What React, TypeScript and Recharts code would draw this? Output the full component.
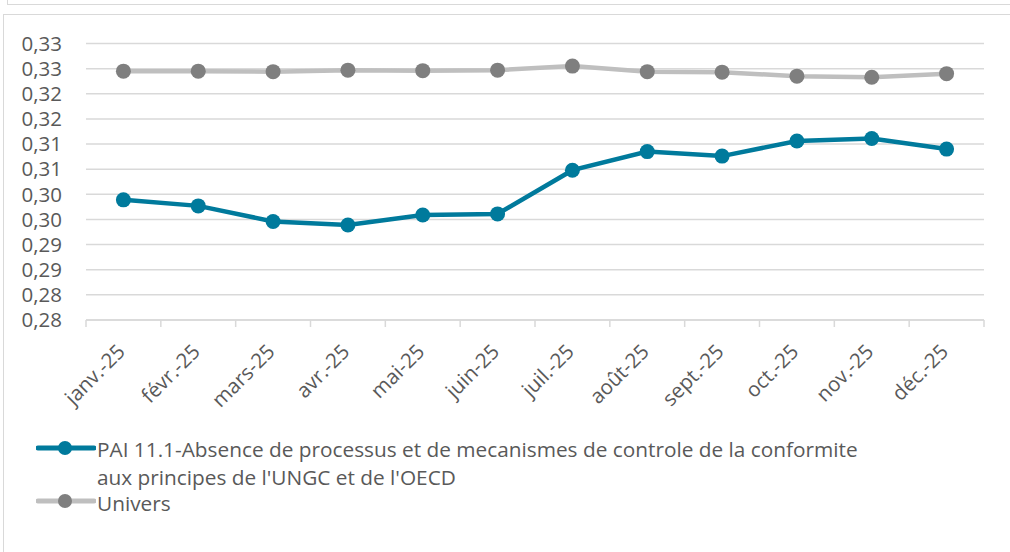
import React from "react";
import {
  LineChart,
  Line,
  XAxis,
  YAxis,
  CartesianGrid,
} from "recharts";

const months = [
  "janv.-25",
  "févr.-25",
  "mars-25",
  "avr.-25",
  "mai-25",
  "juin-25",
  "juil.-25",
  "août-25",
  "sept.-25",
  "oct.-25",
  "nov.-25",
  "déc.-25",
];

const paiValues = [
  0.2989, 0.2977, 0.2946, 0.2939, 0.2959, 0.2961, 0.3048, 0.3085, 0.3076,
  0.3106, 0.3111, 0.309,
];

const universValues = [
  0.3245, 0.3245, 0.3244, 0.3247, 0.3246, 0.3247, 0.3255, 0.3244, 0.3243,
  0.3235, 0.3233, 0.324,
];

const yTicks = [
  0.275, 0.28, 0.285, 0.29, 0.295, 0.3, 0.305, 0.31, 0.315, 0.32, 0.325, 0.33,
];
const yTickLabels = [
  "0,28", "0,28", "0,29", "0,29", "0,30", "0,30",
  "0,31", "0,31", "0,32", "0,32", "0,33", "0,33",
];

const paiName =
  "PAI 11.1-Absence de processus et de mecanismes de controle de la conformite aux principes de l'UNGC et de l'OECD";
const universName = "Univers";

const data = months.map((m, i) => ({
  month: m,
  pai: paiValues[i],
  univers: universValues[i],
}));

const W = 1010;
const H = 552;
const xAxisHeight = 100;
const margin = { top: 43.5, right: 26, left: 0, bottom: 232 - xAxisHeight };
const yAxisWidth = 86;
const band = (W - margin.left - margin.right - yAxisWidth) / months.length;

const FONT = "'Open Sans', sans-serif";
const TEXT = "#595959";
const GRID = "#d9d9d9";
const BLUE = "#007a9c";
const GREY_LINE = "#bfbfbf";
const GREY_DOT = "#7f7f7f";

const XTick = (props: any) => {
  const { x, y, payload, index } = props;
  const ax = x + 3;
  const ay = y + 33;
  return (
    <g>
      <line x1={x - band / 2} y1={y} x2={x - band / 2} y2={y + 7} stroke={GRID} strokeWidth={1.5} />
      {index === months.length - 1 && (
        <line x1={x + band / 2} y1={y} x2={x + band / 2} y2={y + 7} stroke={GRID} strokeWidth={1.5} />
      )}
      <text
        x={ax}
        y={ay}
        textAnchor="end"
        fill={TEXT}
        fontSize={20.5}
        fontFamily={FONT}
        transform={`rotate(-45, ${ax}, ${ay})`}
      >
        {payload.value}
      </text>
    </g>
  );
};

const LegendIcon = ({ color, dot, cy }: { color: string; dot: string; cy: number }) => (
  <svg width={60} height={20} style={{ position: "absolute", left: 36, top: cy - 10 }}>
    <line x1={2} y1={10} x2={58} y2={10} stroke={color} strokeWidth={5} strokeLinecap="round" />
    <circle cx={29} cy={10} r={7} fill={dot} />
  </svg>
);

const ChartLegend = () => (
  <div style={{ position: "absolute", left: 0, top: 0, fontFamily: FONT, color: TEXT, fontSize: 20.8 }}>
    <LegendIcon color={BLUE} dot={BLUE} cy={448} />
    <div style={{ position: "absolute", left: 97, top: 435, width: 780, lineHeight: "28px" }}>
      {paiName}
    </div>
    <LegendIcon color={GREY_LINE} dot={GREY_DOT} cy={501} />
    <div style={{ position: "absolute", left: 97, top: 490, lineHeight: "26px", whiteSpace: "nowrap" }}>
      {universName}
    </div>
  </div>
);

export default function App() {
  return (
    <div style={{ position: "fixed", left: 0, top: 0, width: W, height: H, background: "#fff", overflow: "hidden" }}>
      <div style={{ position: "absolute", left: 7, top: 0, width: W, height: 4, borderLeft: `1px solid ${GRID}`, borderBottom: `1.5px solid ${GRID}` }} />
      <div style={{ position: "absolute", left: 3, top: 14, width: W, height: H, borderLeft: `1.5px solid ${GRID}`, borderTop: `1.5px solid ${GRID}` }} />
      <div style={{ position: "absolute", left: 0, top: 0 }}>
        <LineChart width={W} height={H} data={data} margin={margin}>
          <CartesianGrid vertical={false} stroke={GRID} strokeWidth={1.5} />
          <XAxis
            dataKey="month"
            interval={0}
            padding={{ left: band / 2, right: band / 2 }}
            axisLine={{ stroke: GRID, strokeWidth: 1.5 }}
            tickLine={false}
            tickSize={0}
            tickMargin={0}
            tick={<XTick />}
            height={xAxisHeight}
          />
          <YAxis
            width={yAxisWidth}
            domain={[0.275, 0.33]}
            ticks={yTicks}
            interval={0}
            axisLine={false}
            tickLine={false}
            tickMargin={18}
            tickFormatter={(v: number) => yTickLabels[yTicks.indexOf(v)] ?? ""}
            tick={{ fill: TEXT, fontSize: 20.5, fontFamily: FONT }}
          />
          <Line
            type="linear"
            dataKey="univers"
            name={universName}
            stroke={GREY_LINE}
            strokeWidth={4.5}
            dot={{ r: 7.5, fill: GREY_DOT, stroke: GREY_DOT, strokeWidth: 0 }}
            isAnimationActive={false}
          />
          <Line
            type="linear"
            dataKey="pai"
            name={paiName}
            stroke={BLUE}
            strokeWidth={4.5}
            dot={{ r: 7.5, fill: BLUE, stroke: BLUE, strokeWidth: 0 }}
            isAnimationActive={false}
          />
        </LineChart>
      </div>
      <ChartLegend />
    </div>
  );
}
